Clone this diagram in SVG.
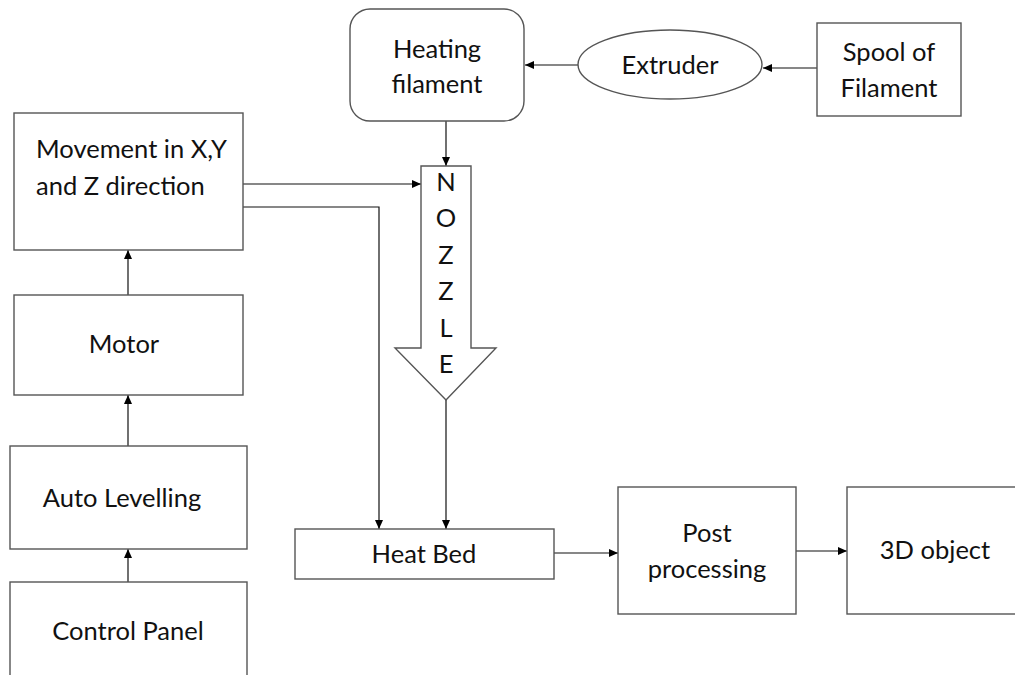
<svg xmlns="http://www.w3.org/2000/svg" width="1015" height="675" viewBox="0 0 1015 675">
<defs>
<marker id="ah" markerUnits="userSpaceOnUse" markerWidth="10" markerHeight="10" viewBox="0 0 10 10" refX="9" refY="5" orient="auto">
<path d="M0,1 L9,5 L0,9 Z" fill="#000"/>
</marker>
</defs>
<style>
.box{fill:#fff;stroke:#555;stroke-width:1.4}
.lbl{font-family:Lato,"Open Sans",sans-serif;font-size:25.5px;fill:#111;text-anchor:middle}
.lft{text-anchor:start}
.cn{fill:none;stroke:#111;stroke-width:1.2}
</style>
<rect width="1015" height="675" fill="#fff"/>
<g id="connectors">
<line class="cn" x1="578" y1="65" x2="525" y2="65" marker-end="url(#ah)"/>
<line class="cn" x1="817" y1="68" x2="763" y2="68" marker-end="url(#ah)"/>
<line class="cn" x1="446" y1="121" x2="446" y2="166" marker-end="url(#ah)"/>
<line class="cn" x1="243" y1="184" x2="421" y2="184" marker-end="url(#ah)"/>
<polyline class="cn" points="243,207 379,207 379,529" marker-end="url(#ah)"/>
<line class="cn" x1="446" y1="400" x2="446" y2="529" marker-end="url(#ah)"/>
<line class="cn" x1="128" y1="295" x2="128" y2="250" marker-end="url(#ah)"/>
<line class="cn" x1="128" y1="446" x2="128" y2="395" marker-end="url(#ah)"/>
<line class="cn" x1="128" y1="582" x2="128" y2="549" marker-end="url(#ah)"/>
<line class="cn" x1="554" y1="553" x2="618" y2="553" marker-end="url(#ah)"/>
<line class="cn" x1="796" y1="551" x2="847" y2="551" marker-end="url(#ah)"/>
</g>
<g id="heating">
<rect class="box" x="350" y="9" width="174" height="112" rx="20"/>
<text class="lbl" x="437" y="58">Heating</text>
<text class="lbl" x="437" y="93">filament</text>
</g>
<g id="extruder">
<ellipse class="box" cx="670" cy="64.5" rx="92" ry="34.5"/>
<text class="lbl" x="670" y="74">Extruder</text>
</g>
<g id="spool">
<rect class="box" x="817" y="23" width="144" height="93"/>
<text class="lbl" x="889" y="61">Spool of</text>
<text class="lbl" x="889" y="97">Filament</text>
</g>
<g id="movement">
<rect class="box" x="14" y="113" width="229" height="137"/>
<text class="lbl lft" x="36" y="158">Movement in X,Y</text>
<text class="lbl lft" x="36" y="195">and Z direction</text>
</g>
<g id="motor">
<rect class="box" x="14" y="295" width="229" height="100"/>
<text class="lbl" x="124" y="353">Motor</text>
</g>
<g id="autolevelling">
<rect class="box" x="10" y="446" width="237" height="103"/>
<text class="lbl" x="122" y="507">Auto Levelling</text>
</g>
<g id="controlpanel">
<rect class="box" x="10" y="582" width="237" height="110"/>
<text class="lbl" x="128" y="640">Control Panel</text>
</g>
<g id="nozzle">
<polygon class="box" points="421,166 471,166 471,348 496,348 446,400 395,348 421,348"/>
<text class="lbl" x="446" y="191">N</text>
<text class="lbl" x="446" y="227">O</text>
<text class="lbl" x="446" y="264">Z</text>
<text class="lbl" x="446" y="300">Z</text>
<text class="lbl" x="446" y="337">L</text>
<text class="lbl" x="446" y="373">E</text>
</g>
<g id="heatbed">
<rect class="box" x="295" y="529" width="259" height="50"/>
<text class="lbl" x="424" y="563">Heat Bed</text>
</g>
<g id="postprocessing">
<rect class="box" x="618" y="487" width="178" height="127"/>
<text class="lbl" x="707" y="542">Post</text>
<text class="lbl" x="707" y="578">processing</text>
</g>
<g id="object3d">
<rect class="box" x="847" y="487" width="180" height="127"/>
<text class="lbl" x="935" y="559">3D object</text>
</g>
</svg>
